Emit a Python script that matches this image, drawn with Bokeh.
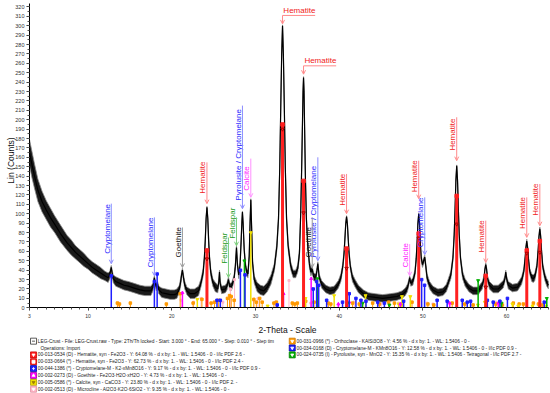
from math import pi
from bokeh.plotting import figure
from bokeh.models import (Range1d, FixedTicker, SingleIntervalTicker, Arrow, OpenHead,
                          ColumnDataSource)
from bokeh.core.properties import value
from bokeh.embed import file_html
from bokeh.resources import INLINE

FONT = "Liberation Sans"

# ---------------- measured pattern (2-theta, counts, noise half-width) ----------------
trace_x = [3.0, 3.3, 3.6, 4.0, 4.5, 5.0, 5.5, 6.0, 6.7, 7.5, 8.0, 8.5, 9.0, 9.5, 10.0, 10.5, 11.0, 11.5,
           12.0, 12.4, 12.6, 12.7, 12.77, 12.85, 13.0, 13.3, 13.8, 14.3, 14.8, 15.5, 16.2, 16.8, 17.5,
           17.75, 17.85, 17.92, 18.0, 18.15, 18.3, 18.45, 18.8, 19.3, 19.8, 20.3, 20.6, 20.9, 21.05,
           21.17, 21.27, 21.38, 21.55, 21.8, 22.2, 22.7, 23.2, 23.5, 23.75, 23.9, 24.0, 24.1, 24.2,
           24.3, 24.4, 24.5, 24.65, 24.9, 25.2, 25.5, 25.62, 25.7, 25.78, 25.95, 26.4, 26.6, 26.77,
           26.9, 27.05, 27.2, 27.45, 27.6, 27.73, 27.85, 28.0, 28.15, 28.28, 28.38, 28.44, 28.52,
           28.65, 28.8, 28.95, 29.1, 29.25, 29.35, 29.44, 29.53, 29.65, 29.85, 30.2, 30.6, 31.0,
           31.4, 31.85, 32.25, 32.55, 32.75, 32.9, 33.02, 33.13, 33.23, 33.33, 33.44, 33.56, 33.71,
           33.9, 34.2, 34.5, 34.8, 35.05, 35.25, 35.4, 35.52, 35.62, 35.68, 35.74, 35.8, 35.87,
           35.96, 36.08, 36.25, 36.45, 36.62, 36.78, 36.95, 37.2, 37.35, 37.45, 37.6, 37.9, 38.4,
           38.9, 39.4, 39.9, 40.2, 40.43, 40.58, 40.68, 40.78, 40.88, 40.98, 41.08, 41.18, 41.33,
           41.58, 41.9, 42.3, 42.9, 43.5, 44.3, 45.2, 46.1, 46.9, 47.5, 47.9, 48.15, 48.3, 48.42,
           48.55, 48.8, 49.05, 49.2, 49.3, 49.4, 49.5, 49.6, 49.7, 49.8, 49.95, 50.1, 50.22, 50.35,
           50.5, 50.8, 51.2, 51.8, 52.4, 52.8, 53.04, 53.34, 53.59, 53.74, 53.84, 53.94, 54.04,
           54.14, 54.24, 54.34, 54.49, 54.74, 55.04, 55.5, 56.0, 56.6, 57.1, 57.3, 57.41, 57.51,
           57.61, 57.72, 57.95, 58.4, 59.0, 59.6, 59.8, 59.9, 60.0, 60.2, 60.7, 61.3, 61.8, 62.06,
           62.21, 62.31, 62.41, 62.51, 62.61, 62.76, 63.0, 63.2, 63.37, 63.62, 63.77, 63.87, 63.97,
           64.07, 64.17, 64.32, 64.57, 64.8, 65.0]
trace_y = [165, 152, 140, 125, 113, 104, 96, 89, 79, 69, 64, 59, 55, 51, 47, 43, 40, 37,
           34, 32, 35, 40, 43, 38, 31, 28, 26, 24, 23, 21, 19, 18, 18,
           22, 28, 32, 27, 22, 25, 19, 16, 15, 14, 14, 15, 20, 27,
           35, 40, 33, 24, 18, 15, 15, 18, 27, 38, 54, 72, 95, 107,
           95, 72, 54, 38, 27, 22, 20, 28, 38, 26, 19, 20, 23, 30,
           23, 22, 24, 32, 45, 64, 45, 35, 45, 70, 92, 102, 90,
           62, 45, 38, 36, 55, 90, 115, 88, 48, 30, 22, 19, 18,
           22, 30, 43, 65, 95, 150, 215, 270, 300, 270, 215, 150, 95,
           66, 45, 36, 36, 42, 58, 100, 150, 200, 230, 245, 230, 190,
           140, 95, 65, 46, 38, 41, 33, 32, 40, 47, 33, 25, 20,
           18, 19, 25, 32, 44, 58, 73, 89, 97, 89, 73, 58, 44,
           32, 26, 20, 15, 12, 11, 10, 11, 12, 14, 17, 21, 26, 32,
           26, 28, 37, 52, 68, 89, 100, 89, 68, 53, 46, 50, 54, 44,
           32, 24, 19, 16, 17, 21, 27, 35, 53, 78, 104, 135, 151,
           135, 104, 78, 53, 35, 27, 21, 18, 18, 24, 31, 41, 46,
           41, 31, 24, 20, 20, 25, 31, 38, 31, 24, 21, 22, 29, 39,
           52, 64, 71, 64, 52, 39, 32, 31, 33, 44, 61, 76, 84,
           76, 61, 44, 33, 27, 24]
trace_noise = [14, 14, 13, 12, 11, 10, 10, 9, 9, 8, 8, 7, 7, 7, 6, 6, 6, 6,
               5, 5, 4, 3, 2, 3, 4, 5, 5, 5, 5, 5, 5, 5, 5,
               4, 3, 2, 3, 4, 3, 4, 5, 5, 5, 5, 5, 4, 4,
               3, 2, 3, 4, 4, 5, 5, 5, 4, 4, 3, 3, 2, 1,
               2, 3, 3, 4, 4, 5, 4, 3, 2, 3, 4, 4, 4, 3,
               4, 4, 4, 3, 3, 2, 3, 4, 3, 3, 2, 1, 2,
               3, 3, 4, 4, 3, 2, 1, 2, 3, 4, 5, 5, 5,
               5, 5, 4, 4, 3, 3, 2, 1, 1, 1, 2, 3, 3,
               4, 4, 4, 4, 4, 4, 3, 3, 2, 1, 1, 1, 2,
               3, 3, 4, 4, 4, 3, 4, 4, 3, 2, 3, 4, 4,
               4, 4, 4, 4, 3, 3, 2, 2, 1, 2, 2, 3, 3,
               4, 4, 4, 4, 4, 4, 4, 4, 4, 4, 4, 4, 3, 2,
               3, 4, 3, 3, 2, 2, 1, 2, 2, 3, 3, 3, 2, 3,
               4, 4, 4, 4, 4, 4, 4, 4, 3, 3, 2, 2, 1,
               2, 2, 3, 3, 4, 4, 4, 4, 4, 4, 3, 2, 2,
               2, 3, 4, 4, 4, 4, 3, 2, 3, 4, 4, 4, 4, 3,
               3, 2, 2, 2, 3, 3, 4, 4, 4, 3, 3, 2, 2,
               2, 3, 3, 4, 4, 4]

# ---------------- reference patterns (stick positions / heights) ----------------
hematite_x = [24.2, 33.23, 35.74, 40.88, 49.5, 54.04, 57.51, 62.41, 63.97]
hematite_h = [61, 195, 135, 63, 79, 119, 34, 61, 71]
hematite_h2 = [52, 190, 101, 42, 74, 89, 22, 58, 59]

crypt_x = [12.77, 17.92, 18.25, 25.4, 25.8, 28.2, 28.75, 32.6, 36.9, 37.3, 37.55, 38.5, 40.4, 41.2,
           42.0, 42.6, 43.2, 44.6, 45.4, 47.7, 49.85, 50.2, 51.7, 52.9, 54.7, 55.3, 55.7, 57.7,
           58.4, 59.2, 60.1, 64.5]
crypt_h = [34, 28, 36, 8, 8, 40, 35, 3, 20, 28, 24, 8, 6, 15, 10, 8, 7, 6, 5, 7, 30, 24, 8, 7, 8,
           6, 7, 8, 6, 7, 10, 6]

goethite_x = [21.27, 33.35, 36.65, 39.9, 41.2, 47.3, 53.2, 59.0]
goethite_h = [16, 15, 31, 4, 6, 4, 5, 5]

calcite_x = [23.05, 29.44, 31.45, 35.97, 39.4, 43.15, 47.1, 47.5, 48.5, 56.57, 57.4, 60.7, 61.4, 63.1, 64.7]
calcite_h = [9, 80, 2, 10, 13, 13, 4, 12, 12, 3, 6, 4, 2, 2, 2]

orth_x = [13.5, 13.75, 15.05, 19.35, 21.0, 22.55, 23.6, 24.7, 25.1, 25.6, 26.65, 26.9, 27.1, 27.45,
          29.8, 30.1, 30.5, 30.8, 32.2, 32.5, 34.4, 34.7, 35.0, 36.0, 37.0, 38.7, 39.0, 41.6, 42.4,
          44.0, 44.8, 45.9, 46.6, 47.5, 48.7, 50.6, 51.3, 53.5, 55.0, 56.0, 58.7, 59.5, 60.8, 61.5,
          62.0, 63.2, 63.8, 64.3]
orth_h = [5, 4, 5, 4, 15, 5, 9, 5, 6, 8, 10, 13, 12, 8, 9, 6, 10, 6, 5, 6, 5, 4, 5, 7, 6, 5, 4, 5,
          4, 5, 4, 6, 5, 4, 6, 4, 3, 5, 4, 3, 4, 3, 5, 4, 4, 5, 4, 3]

micro_x = [13.6, 21.1, 22.6, 23.5, 26.1, 27.0, 27.5, 29.8, 30.3, 32.4, 34.0, 36.6, 41.8, 45.0, 47.1,
           50.5, 51.2, 58.7, 59.3]
micro_h = [5, 8, 6, 10, 6, 20, 30, 8, 10, 6, 29, 5, 6, 4, 5, 5, 4, 6, 5]

pyro_x = [28.68, 37.4, 41.0, 42.8, 46.0, 56.6, 59.4, 64.8]
pyro_h = [50, 31, 5, 5, 3, 29, 5, 10]

# ---------------- peak labels ----------------
ann_text = ["Cryptomelane", "Cryptomelane", "Goethite", "Hematite", "Feldspar", "Feldspar",
            "Pyrolusite / Cryptomelane", "Calcite", "Hematite", "Hematite", "Goethite",
            "Pyrolusite / Cryptomelane", "Hematite", "Calcite", "Hematite", "Cryptomelane",
            "Hematite", "Hematite", "Hematite", "Hematite"]
ann_x = [12.77, 17.92, 21.27, 24.2, 26.77, 27.73, 28.44, 29.44, 33.23, 35.74, 36.78, 37.45, 40.88,
         48.42, 49.5, 50.22, 54.04, 57.51, 62.41, 63.97]
ann_tip = [46.9, 34.1, 42.9, 110.8, 32.3, 66.0, 105.4, 117.5, 302.0, 248.5, 42.9, 50.1, 100.1,
           34.1, 116.1, 56.5, 156.5, 48.2, 74.9, 87.3]
ann_top = [110.8, 96.2, 85.5, 154.7, 74.8, 96.2, 215.1, 158.7, 311.0, 257.4, 96.2, 160.1, 142.4,
           67.8, 156.5, 117.5, 202.7, 92.7, 117.5, 131.7]
ann_bottom = [57.5, 42.9, 53.6, 121.4, 46.9, 73.5, 114.0, 124.6, None, None, 53.6, 53.6, 108.6,
              42.9, 122.8, 64.2, 167.2, 58.9, 83.8, 98.0]
ann_kind = ["crypt", "crypt", "goe", "hem", "feld", "feld", "crypt", "cal", "hem", "hem", "goe",
            "crypt", "hem", "cal", "hem", "crypt", "hem", "hem", "hem", "hem"]

x_tick_values = [3, 10, 20, 30, 40, 50, 60]

legend_left = [
    "LEG-Crust - File: LEG-Crust.raw - Type: 2Th/Th locked - Start: 3.000 \u00b0 - End: 65.000 \u00b0 - Step: 0.010 \u00b0 - Step tim",
    "Operations: Import",
    "00-013-0534 (D) - Hematite, syn - Fe2O3 - Y: 64.08 % - d x by: 1. - WL: 1.5406 - 0 - I/Ic PDF 2.6 -",
    "00-033-0664 (*) - Hematite, syn - Fe2O3 - Y: 62.73 % - d x by: 1. - WL: 1.5406 - 0 - I/Ic PDF 2.4 -",
    "00-044-1386 (*) - Cryptomelane-M - K2-xMn8O16 - Y: 9.17 % - d x by: 1. - WL: 1.5406 - 0 - I/Ic PDF 0.9 -",
    "00-002-0273 (D) - Goethite - Fe2O3\u00b7H2O\u00b7xH2O - Y: 4.73 % - d x by: 1. - WL: 1.5406 - 0 -",
    "00-005-0586 (*) - Calcite, syn - CaCO3 - Y: 23.80 % - d x by: 1. - WL: 1.5406 - 0 - I/Ic PDF 2. -",
    "00-002-0513 (D) - Microcline - Al2O3\u00b7K2O\u00b76SiO2 - Y: 9.35 % - d x by: 1. - WL: 1.5406 - 0 -",
]
legend_right = [
    "00-031-0966 (*) - Orthoclase - KAlSi3O8 - Y: 4.56 % - d x by: 1. - WL: 1.5406 - 0 -",
    "00-034-0168 (D) - Cryptomelane-M - KMn8O16 - Y: 12.58 % - d x by: 1. - WL: 1.5406 - 0 - I/Ic PDF 0.9 -",
    "00-024-0735 (I) - Pyrolusite, syn - MnO2 - Y: 15.35 % - d x by: 1. - WL: 1.5406 - Tetragonal - I/Ic PDF 2.7 -",
]

# ---------------- styles ----------------
RED = "#ff2020"
BLUE = "#1f1fff"
MAG = "#ff00ff"
YEL = "#f0e000"
PINK = "#ffb6c8"
ORG = "#ff9900"
GRN = "#00b000"
text_col = {"hem": "#f02020", "crypt": "#2a2aff", "goe": "#111111", "feld": "#1a9a1a", "cal": "#ff22ff"}
line_col = {"hem": "#ff8a8a", "crypt": "#8c8cff", "goe": "#9a9a9a", "feld": "#7ccc7c", "cal": "#ff90ff"}

# the frame fills the whole figure; axes are pinned at x = 3 and y = 0
p = figure(width=550, height=393, x_range=Range1d(-0.465, 65.245), y_range=Range1d(-91.17, 326.9),
           output_backend="svg", toolbar_location=None, title=None,
           min_border_left=0, min_border_right=0, min_border_top=0, min_border_bottom=0)
p.outline_line_color = None
p.xgrid.visible = False
p.ygrid.visible = False
p.background_fill_color = "white"
p.border_fill_color = "white"

p.xaxis.fixed_location = 0
p.yaxis.fixed_location = 3
p.xaxis.bounds = (3, 65)
p.yaxis.bounds = (0, 324)
p.xaxis.ticker = FixedTicker(ticks=x_tick_values, minor_ticks=list(range(3, 66)))
p.yaxis.ticker = SingleIntervalTicker(interval=10, num_minor_ticks=2)
for ax in (p.xaxis, p.yaxis):
    ax.major_label_text_font = FONT
    ax.major_label_text_color = "#333333"
    ax.major_tick_in = 0
    ax.major_tick_out = 3
    ax.minor_tick_in = 0
    ax.minor_tick_out = 2
    ax.axis_line_color = "black"
    ax.major_tick_line_color = "#333333"
    ax.minor_tick_line_color = "#555555"
p.xaxis.major_label_text_font_size = "5px"
p.yaxis.major_label_text_font_size = "5.5px"
p.xaxis.major_label_standoff = 3
p.yaxis.major_label_standoff = 2

# ---------------- diffraction trace ----------------
lo = [y - s for y, s in zip(trace_y, trace_noise)]
hi = [y + s for y, s in zip(trace_y, trace_noise)]
p.varea(x=trace_x, y1=lo, y2=hi, fill_color="#1a1a1a")
p.line(trace_x, hi, line_color="#8a8a8a", line_width=0.8)
p.line(trace_x, lo, line_color="#8a8a8a", line_width=0.8)
p.line(trace_x, trace_y, line_color="black", line_width=1.2)

# ---------------- sticks ----------------
def sticks(xs, hs, color, width, marker, size):
    p.segment(x0=xs, y0=[0] * len(xs), x1=xs, y1=hs, line_color=color, line_width=width)
    p.scatter(xs, hs, marker=marker, size=size, fill_color=color, line_color=color)

sticks(micro_x, micro_h, PINK, 1, "square", 2)
sticks(orth_x, orth_h, ORG, 1, "square", 2.5)
sticks(calcite_x, calcite_h, YEL, 1.5, "inverted_triangle", 3)
sticks(goethite_x, goethite_h, MAG, 1.5, "triangle", 3)
sticks(pyro_x, pyro_h, GRN, 1.5, "inverted_triangle", 3)
sticks(crypt_x, crypt_h, BLUE, 1.5, "square", 2.5)
sticks(hematite_x, hematite_h, RED, 3, "square", 3.5)
p.scatter(hematite_x, hematite_h2, marker="inverted_triangle", size=3.5, fill_color=RED, line_color="#aa0000")

# ---------------- peak annotations ----------------
v_idx = [i for i, b in enumerate(ann_bottom) if b is not None]
h_idx = [i for i, b in enumerate(ann_bottom) if b is None]
vsrc = ColumnDataSource(dict(
    x=[ann_x[i] - 0.5 for i in v_idx], y=[ann_bottom[i] for i in v_idx],
    t=[ann_text[i] for i in v_idx], c=[text_col[ann_kind[i]] for i in v_idx]))
p.text(x="x", y="y", text="t", text_color="c", angle=pi / 2, source=vsrc,
       text_font=value(FONT), text_font_size="8px", text_align="left", text_baseline="middle")
hsrc = ColumnDataSource(dict(
    x=[ann_x[i] + 0.1 for i in h_idx], y=[ann_top[i] + 0.8 for i in h_idx],
    t=[ann_text[i] for i in h_idx], c=[text_col[ann_kind[i]] for i in h_idx]))
p.text(x="x", y="y", text="t", text_color="c", source=hsrc,
       text_font=value(FONT), text_font_size="8px", text_align="left", text_baseline="bottom")
for i in h_idx:
    lc = line_col[ann_kind[i]]
    p.segment(x0=[ann_x[i]], y0=[ann_top[i]], x1=[ann_x[i] + 3.9], y1=[ann_top[i]],
              line_color=lc, line_width=1)
for i in range(len(ann_text)):
    lc = line_col[ann_kind[i]]
    p.add_layout(Arrow(x_start=ann_x[i], y_start=ann_top[i], x_end=ann_x[i], y_end=ann_tip[i],
                       line_color=lc, line_width=1,
                       end=OpenHead(size=4, line_color=lc, line_width=1)))

# ---------------- axis titles ----------------
p.text(x=[0.73], y=[156.7], text=["Lin (Counts)"], angle=pi / 2, text_align="center",
       text_baseline="middle", text_font=value(FONT), text_font_size="8.5px", text_color="#111111")
p.text(x=[33.82], y=[-24.1], text=["2-Theta - Scale"], text_align="center",
       text_baseline="middle", text_font=value(FONT), text_font_size="8.5px", text_color="#111111")

# ---------------- legend block ----------------
row_y = [-35.5 - 7.3 * i for i in range(8)]
left_x = [4.31 if i == 1 else 3.99 for i in range(len(legend_left))]
p.text(x=left_x, y=row_y[:len(legend_left)], text=legend_left, text_align="left",
       text_baseline="middle", text_font=value(FONT), text_font_size="4.8px", text_color="#222222")
p.text(x=[34.9] * len(legend_right), y=row_y[:len(legend_right)], text=legend_right,
       text_align="left", text_baseline="middle", text_font=value(FONT),
       text_font_size="4.8px", text_color="#222222")

icon_x = [3.48, 3.48, 3.48, 3.48, 3.48, 3.48, 3.48, 34.39, 34.39, 34.39]
icon_y = [row_y[0], row_y[2], row_y[3], row_y[4], row_y[5], row_y[6], row_y[7],
          row_y[0], row_y[1], row_y[2]]
icon_bg = ["white", RED, RED, BLUE, MAG, YEL, PINK, ORG, BLUE, GRN]
icon_edge = ["#333333", "#cc0000", "#cc0000", "#0000aa", "#aa00aa", "#b0a000", "#e090a0",
             "#cc7700", "#0000aa", "#008000"]
icon_mark = ["dash", "inverted_triangle", "square", "cross", "triangle", "inverted_triangle",
             "inverted_triangle", "inverted_triangle", "inverted_triangle", "inverted_triangle"]
icon_fg = ["#333333", "white", "white", "white", "white", "#a08000", "white", "white", "white", "white"]
p.scatter(icon_x, icon_y, marker="square", size=6, fill_color=icon_bg, line_color=icon_edge,
          line_width=0.8)
p.scatter(icon_x, icon_y, marker=icon_mark, size=3, fill_color=icon_fg, line_color=icon_fg,
          line_width=0.8)

open("out.html", "w").write(file_html(p, INLINE))
